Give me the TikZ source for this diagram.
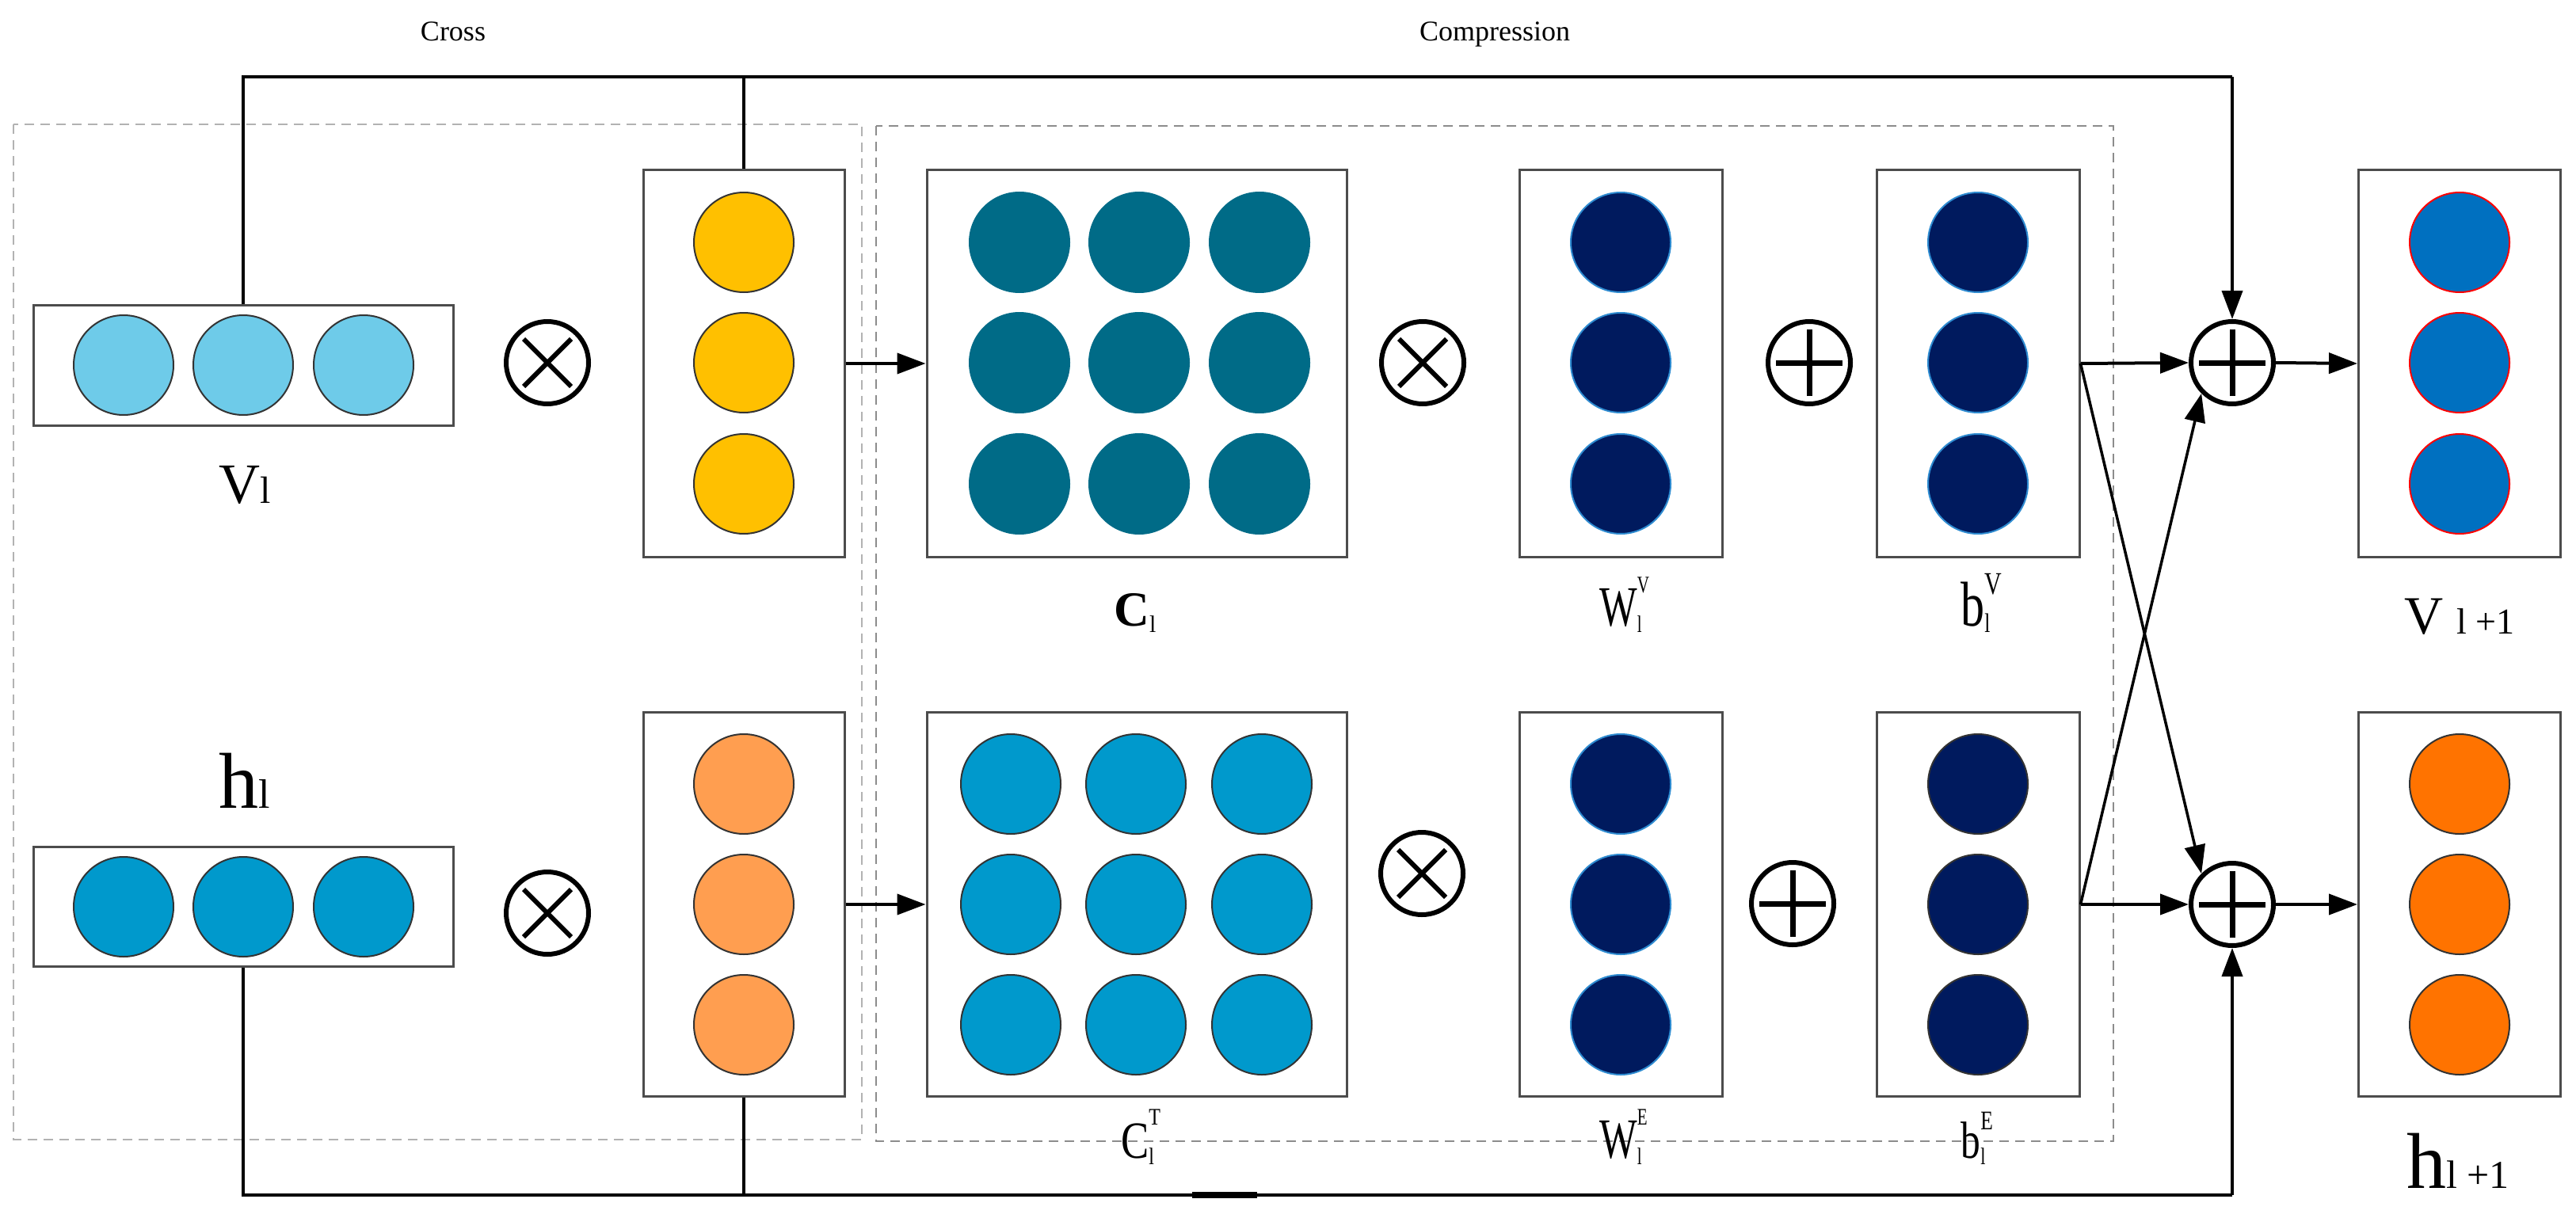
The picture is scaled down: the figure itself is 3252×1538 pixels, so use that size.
\documentclass[tikz,border=0pt]{standalone}
\usepackage{fontspec}
\setmainfont{Liberation Serif}
\usetikzlibrary{arrows.meta}
\definecolor{cV}{HTML}{6ECBE9}
\definecolor{cH}{HTML}{0099CC}
\definecolor{cY}{HTML}{FFC000}
\definecolor{cO}{HTML}{FF9E50}
\definecolor{cT}{HTML}{006B87}
\definecolor{cN}{HTML}{001A5E}
\definecolor{cB}{HTML}{0070C0}
\definecolor{cR}{HTML}{FF7300}
\definecolor{edgeB}{HTML}{2E8BD0}
\newcommand{\fs}[1]{\fontsize{#1}{#1}\selectfont}
\tikzset{
 box/.style={draw=black!70, line width=3pt, fill=white, inner sep=0pt},
 dot/.style={circle, minimum size=126pt, inner sep=0pt, line width=2pt},
 op/.style={circle, draw=black, line width=6pt, minimum size=104pt, inner sep=0pt},
 conn/.style={line width=4pt, draw=black},
 arr/.style={conn, -{Triangle[length=36pt,width=26pt]}},
 lab/.style={inner sep=0pt, anchor=base},
 dashbox/.style={dash pattern=on 12pt off 8pt, line width=2.5pt}
}
\newcommand{\otimesop}[2]{\node[op] (#1) at (#2) {};
 \draw[line width=6pt] ([shift={(-30pt,-30pt)}]#1.center) -- ([shift={(30pt,30pt)}]#1.center)
   ([shift={(-30pt,30pt)}]#1.center) -- ([shift={(30pt,-30pt)}]#1.center);}
\newcommand{\oplusop}[2]{\node[op] (#1) at (#2) {};
 \draw[line width=7pt] ([xshift=-42pt]#1.center) -- ([xshift=42pt]#1.center)
   ([yshift=-42pt]#1.center) -- ([yshift=42pt]#1.center);}
\begin{document}
\begin{tikzpicture}[x=1pt,y=-1pt]
\useasboundingbox (0,0) rectangle (3252,1538);
% dashed groups
\draw[dashbox, draw=black!30] (17,157) rectangle (1088,1439);
\draw[dashbox, draw=black!45] (1106,159) rectangle (2668,1441);
% texts top
\node[lab] (tcross) at (572,52) {\fs{36}Cross};
\node[lab] (tcomp) at (1887,52) {\fs{36}Compression};
% boxes
\node[box, minimum width=530pt, minimum height=152pt] (v1) at (307,461) {};
\node[box, minimum width=530pt, minimum height=151pt] (h1) at (307,1145) {};
\node[box, minimum width=254pt, minimum height=488pt] (y1) at (939,459) {};
\node[box, minimum width=254pt, minimum height=485pt] (o1) at (939,1142) {};
\node[box, minimum width=530pt, minimum height=488pt] (c1) at (1435,459) {};
\node[box, minimum width=530pt, minimum height=485pt] (c2) at (1435,1142) {};
\node[box, minimum width=256pt, minimum height=488pt] (w1) at (2046,459) {};
\node[box, minimum width=256pt, minimum height=485pt] (w2) at (2046,1142) {};
\node[box, minimum width=256pt, minimum height=488pt] (b1) at (2497,459) {};
\node[box, minimum width=256pt, minimum height=485pt] (b2) at (2497,1142) {};
\node[box, minimum width=255pt, minimum height=488pt] (r1) at (3105,459) {};
\node[box, minimum width=255pt, minimum height=485pt] (r2) at (3105,1142) {};
% dots
\foreach \x [count=\i] in {156,307,459}{
 \node[dot, fill=cV, draw=black!80] (v1d\i) at (\x,461) {};
 \node[dot, fill=cH, draw=black!80] (h1d\i) at (\x,1145) {};}
\foreach \y [count=\i] in {306,458,611}{
 \node[dot, fill=cY, draw=black!80] (y1d\i) at (939,\y) {};
 \node[dot, fill=cN, draw=edgeB] (w1d\i) at (2046,\y) {};
 \node[dot, fill=cN, draw=edgeB] (b1d\i) at (2497,\y) {};
 \node[dot, fill=cB, draw=red] (r1d\i) at (3105,\y) {};
 \foreach \x [count=\j] in {1287,1438,1590}{\node[dot, fill=cT, draw=cT] (c1d\i\j) at (\x,\y) {};}}
\foreach \y [count=\i] in {990,1142,1294}{
 \node[dot, fill=cO, draw=black!80] (o1d\i) at (939,\y) {};
 \node[dot, fill=cN, draw=edgeB] (w2d\i) at (2046,\y) {};
 \node[dot, fill=cN, draw=black!80] (b2d\i) at (2497,\y) {};
 \node[dot, fill=cR, draw=black!80] (r2d\i) at (3105,\y) {};
 \foreach \x [count=\j] in {1276,1434,1593}{\node[dot, fill=cH, draw=black!80] (c2d\i\j) at (\x,\y) {};}}
% operators
\otimesop{m1}{691,458}
\otimesop{m2}{691,1153}
\otimesop{m3}{1796,458}
\otimesop{m4}{1795,1103}
\oplusop{p1}{2284,458}
\oplusop{p2}{2263,1141}
\oplusop{p3}{2818,458}
\oplusop{p4}{2818,1142}
% labels
\node[lab] (lv1) at (309,635) {\fs{72}V\fs{48}l};
\node[lab] (lh1) at (309,1020) {\fs{100}h\fs{52}l};
\node[lab] (lc1) at (1433,790) {\fs{62}\textbf{C}\fs{30}\raisebox{-8pt}{l}};
\node[lab] (lwv) at (2046,790) {\scalebox{0.7}[1]{\fs{72}W\rlap{\fs{30}\raisebox{42pt}{V}}\fs{30}\raisebox{-8pt}{l}}};
\node[lab] (lbv) at (2494,790) {\scalebox{0.75}[1]{\fs{80}b\rlap{\fs{40}\raisebox{40pt}{V}}\fs{34}\raisebox{-8pt}{l}}};
\node[lab] (lr1) at (3105,800) {\fs{68}V \fs{46}l +1};
\node[lab] (lct) at (1436,1462) {\scalebox{0.8}[1]{\fs{66}C\rlap{\fs{30}\raisebox{42pt}{T}}\fs{30}\raisebox{-8pt}{l}}};
\node[lab] (lwe) at (2046,1462) {\scalebox{0.7}[1]{\fs{72}W\rlap{\fs{30}\raisebox{42pt}{E}}\fs{30}\raisebox{-8pt}{l}}};
\node[lab] (lbe) at (2491,1462) {\scalebox{0.75}[1]{\fs{66}b\rlap{\fs{34}\raisebox{36pt}{E}}\fs{30}\raisebox{-8pt}{l}}};
\node[lab] (lr2) at (3103,1500) {\fs{100}h\fs{50}l +1};
% connectors
\coordinate (tl) at (307,97);
\coordinate (tr) at (2818,97);
\coordinate (bl) at (307,1509);
\coordinate (br) at (2818,1509);
\draw[conn] (v1.north) -- (tl) -- (tr);
\draw[conn] (y1.north) -- (y1.north |- tl);
\draw[arr] (tr) -- (p3.north);
\draw[conn] (h1.south) -- (bl) -- (br);
\draw[conn] (o1.south) -- (o1.south |- bl);
\draw[arr] (br) -- (p4.south);
\draw[line width=8pt] (1505,1509) -- (1587,1509);
\draw[arr] (y1.east) -- (c1.west);
\draw[arr] (o1.east) -- (c2.west);
\draw[arr] (b1.east) -- (p3.west);
\draw[arr] (b2.east) -- (p4.west);
\draw[arr] (p3.east) -- (r1.west);
\draw[arr] (p4.east) -- (r2.west);
\draw[arr, line width=3.5pt] (b1.east) -- (p4.north west);
\draw[arr, line width=3.5pt] (b2.east) -- (p3.south west);
\end{tikzpicture}
\end{document}
